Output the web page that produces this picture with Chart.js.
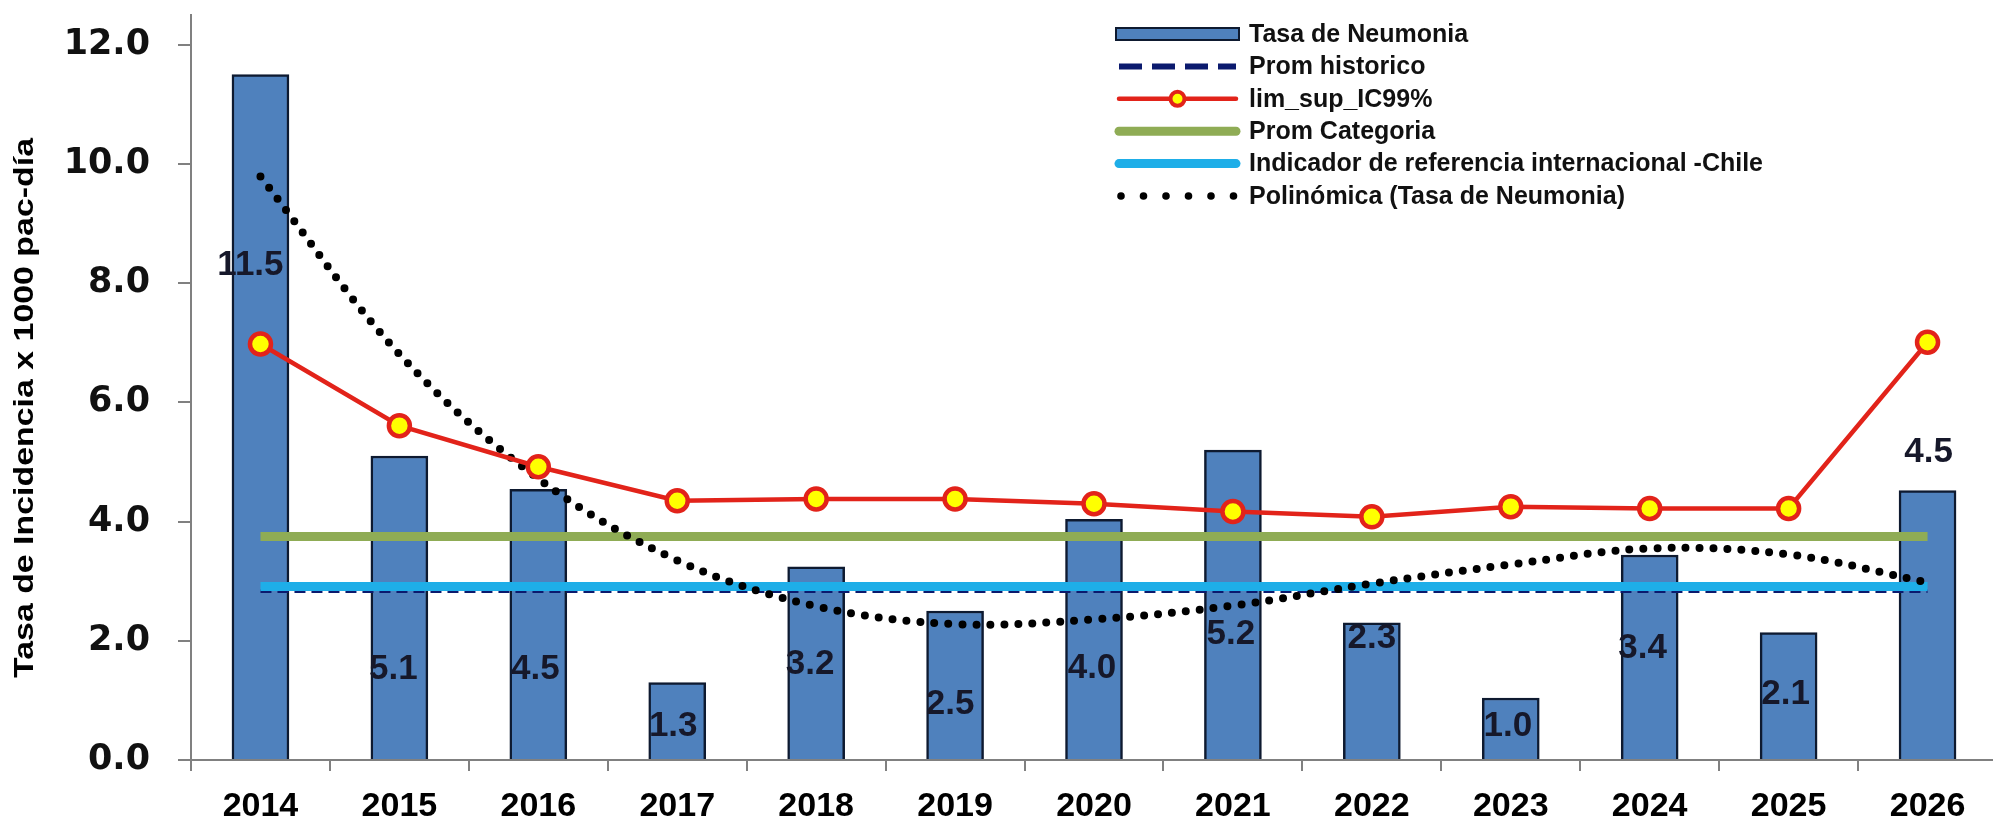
<!DOCTYPE html>
<html>
<head>
<meta charset="utf-8">
<script src="https://cdn.jsdelivr.net/npm/chart.js@4.4.1/dist/chart.umd.min.js"></script>
<style>
    html, body { margin: 0; padding: 0; background: #fff; overflow: hidden; }
    #wrap { position: relative; width: 2012px; height: 820px; }
</style>
</head>
<body>
<div id="wrap"><canvas id="chart"></canvas></div>
<script>
const years = ['2014', '2015', '2016', '2017', '2018', '2019', '2020', '2021', '2022', '2023', '2024', '2025', '2026'];
const tasaNeumonia = [11.5, 5.1, 4.54, 1.3, 3.24, 2.5, 4.04, 5.2, 2.3, 1.04, 3.44, 2.14, 4.52];
const promHistorico = [2.83, 2.83, 2.83, 2.83, 2.83, 2.83, 2.83, 2.83, 2.83, 2.83, 2.83, 2.83, 2.83];
const limSupIC99 = [6.98, 5.61, 4.92, 4.35, 4.38, 4.38, 4.30, 4.17, 4.08, 4.25, 4.22, 4.22, 7.01];
const promCategoria = [3.75, 3.75, 3.75, 3.75, 3.75, 3.75, 3.75, 3.75, 3.75, 3.75, 3.75, 3.75, 3.75];
const refChile = [2.91, 2.91, 2.91, 2.91, 2.91, 2.91, 2.91, 2.91, 2.91, 2.91, 2.91, 2.91, 2.91];
const polinomica = [9.79, 6.81, 4.72, 3.35, 2.58, 2.28, 2.36, 2.59, 2.96, 3.28, 3.55, 3.45, 2.98];
const yTicks = [0, 2, 4, 6, 8, 10, 12];

// where Excel left each bar label (value units for y, px shift for x)
const labelY = [8.3, 1.52, 1.52, 0.57, 1.61, 0.94, 1.54, 2.11, 2.04, 0.57, 1.88, 1.11, 5.17];
const labelDx = [-10, -6, -3, -4, -6, -5, -2, -2, 0, -3, -7, -3, 1];

const barLabels = {
    id: 'barLabels',
    afterDatasetsDraw(chart) {
        const ctx = chart.ctx;
        const meta = chart.getDatasetMeta(0);
        const y = chart.scales.y;
        ctx.save();
        ctx.font = 'bold 35px "Liberation Sans", Arial, sans-serif';
        ctx.fillStyle = '#16182a';
        ctx.textAlign = 'center';
        ctx.textBaseline = 'middle';
        meta.data.forEach((bar, i) => {
            ctx.fillText(tasaNeumonia[i].toFixed(1), bar.x + labelDx[i], y.getPixelForValue(labelY[i]));
        });
        ctx.restore();
    }
};

const yTitle = {
    id: 'yTitle',
    afterDraw(chart) {
        const ctx = chart.ctx;
        const text = 'Tasa de Incidencia x 1000 pac-día';
        ctx.save();
        ctx.font = 'bold 28px "Liberation Sans", Arial, sans-serif';
        const w = ctx.measureText(text).width;
        ctx.translate(25, 408);
        ctx.rotate(-Math.PI / 2);
        ctx.scale(540 / w, 1);
        ctx.fillStyle = '#000';
        ctx.textAlign = 'center';
        ctx.textBaseline = 'middle';
        ctx.fillText(text, 0, 0);
        ctx.restore();
    }
};

const sideLegend = {
    id: 'sideLegend',
    afterDraw(chart) {
        const ctx = chart.ctx;
        const x0 = 1116, x1 = 1239, tx = 1249;
        ctx.save();
        ctx.font = 'bold 25px "Liberation Sans", Arial, sans-serif';
        ctx.textBaseline = 'middle';
        chart.data.datasets.forEach((ds, i) => {
            const yy = 34 + i * 32.4;
            ctx.save();
            if (ds.type === 'bar') {
                ctx.fillStyle = ds.backgroundColor;
                ctx.strokeStyle = ds.borderColor;
                ctx.lineWidth = 2;
                ctx.fillRect(x0, yy - 6, x1 - x0, 12);
                ctx.strokeRect(x0, yy - 6, x1 - x0, 12);
            } else if (ds.key === 'dots') {
                ctx.fillStyle = ds.borderColor;
                for (let k = 0; k < 6; k++) {
                    ctx.beginPath();
                    ctx.arc(x0 + 5 + k * 22.5, yy, 3.8, 0, Math.PI * 2);
                    ctx.fill();
                }
            } else {
                ctx.strokeStyle = ds.borderColor;
                ctx.lineWidth = ds.key === 'dash' ? 6 : ds.borderWidth;
                ctx.lineCap = ds.key === 'dash' ? 'butt' : 'round';
                if (ds.key === 'dash') ctx.setLineDash([23, 10]);
                ctx.beginPath();
                ctx.moveTo(x0 + 3, yy);
                ctx.lineTo(x1 - 3, yy);
                ctx.stroke();
                if (ds.key === 'red') {
                    ctx.setLineDash([]);
                    ctx.fillStyle = ds.pointBackgroundColor;
                    ctx.lineWidth = 4;
                    ctx.beginPath();
                    ctx.arc((x0 + x1) / 2, yy, 7, 0, Math.PI * 2);
                    ctx.fill();
                    ctx.stroke();
                }
            }
            ctx.restore();
            ctx.fillStyle = '#111';
            ctx.fillText(ds.label, tx, yy + 1);
        });
        ctx.restore();
    }
};

const ctx = document.getElementById('chart').getContext('2d');
new Chart(ctx, {
    data: {
        labels: years,
        datasets: [
            {
                type: 'bar',
                label: 'Tasa de Neumonia',
                data: tasaNeumonia,
                backgroundColor: '#4f81bd',
                borderColor: '#0e1a30',
                borderWidth: 2.5,
                borderSkipped: 'bottom',
                barThickness: 57,
                order: 10
            },
            {
                type: 'line',
                key: 'dash',
                label: 'Prom historico',
                data: promHistorico,
                borderColor: '#0b1a6e',
                borderWidth: 3.5,
                borderDash: [11, 6],
                pointRadius: 0,
                order: 6
            },
            {
                type: 'line',
                key: 'red',
                label: 'lim_sup_IC99%',
                data: limSupIC99,
                borderColor: '#e2231a',
                borderWidth: 4.5,
                pointRadius: 10.5,
                pointBorderWidth: 4.5,
                pointBackgroundColor: '#ffff00',
                pointBorderColor: '#e2231a',
                order: 1
            },
            {
                type: 'line',
                key: 'green',
                label: 'Prom Categoria',
                data: promCategoria,
                borderColor: '#8fac55',
                borderWidth: 9,
                pointRadius: 0,
                order: 4
            },
            {
                type: 'line',
                key: 'cyan',
                label: 'Indicador de referencia internacional -Chile',
                data: refChile,
                borderColor: '#1eaee8',
                borderWidth: 9,
                pointRadius: 0,
                order: 5
            },
            {
                type: 'line',
                key: 'dots',
                label: 'Polinómica (Tasa de Neumonia)',
                data: polinomica,
                borderColor: '#000000',
                borderWidth: 8,
                borderDash: [0, 14],
                borderCapStyle: 'round',
                tension: 0.35,
                pointRadius: 0,
                order: 3
            }
        ]
    },
    options: {
        responsive: true,
        maintainAspectRatio: false,
        animation: false,
        layout: { padding: { left: 66, top: 12, right: 0, bottom: 0 } },
        plugins: {
            legend: { display: false },
            tooltip: { enabled: false }
        },
        scales: {
            x: {
                offset: true,
                grid: {
                    offset: true,
                    drawOnChartArea: false,
                    drawTicks: true,
                    tickLength: 11,
                    color: '#808080',
                    lineWidth: 2
                },
                border: { color: '#808080', width: 2 },
                ticks: {
                    color: '#000',
                    padding: 15,
                    font: { family: "'Liberation Sans', Arial, sans-serif", size: 34, weight: 'bold' }
                },
                afterFit: (s) => { s.height = 60; s.paddingLeft = 0; s.paddingRight = 0; }
            },
            y: {
                min: 0,
                max: 12.5,
                afterBuildTicks: (s) => { s.ticks = yTicks.map(v => ({ value: v })); },
                grid: {
                    drawOnChartArea: false,
                    drawTicks: true,
                    tickLength: 13,
                    color: '#808080',
                    lineWidth: 2
                },
                border: { color: '#808080', width: 2 },
                ticks: {
                    color: '#111',
                    padding: 28,
                    font: { family: "'DejaVu Sans', sans-serif", size: 35, weight: 'bold' },
                    callback: (v) => Number(v).toFixed(1)
                },
                afterFit: (s) => { s.width = 125; s.paddingTop = 0; s.paddingBottom = 0; }
            }
        }
    },
    plugins: [barLabels, yTitle, sideLegend]
});
</script>
</body>
</html>
